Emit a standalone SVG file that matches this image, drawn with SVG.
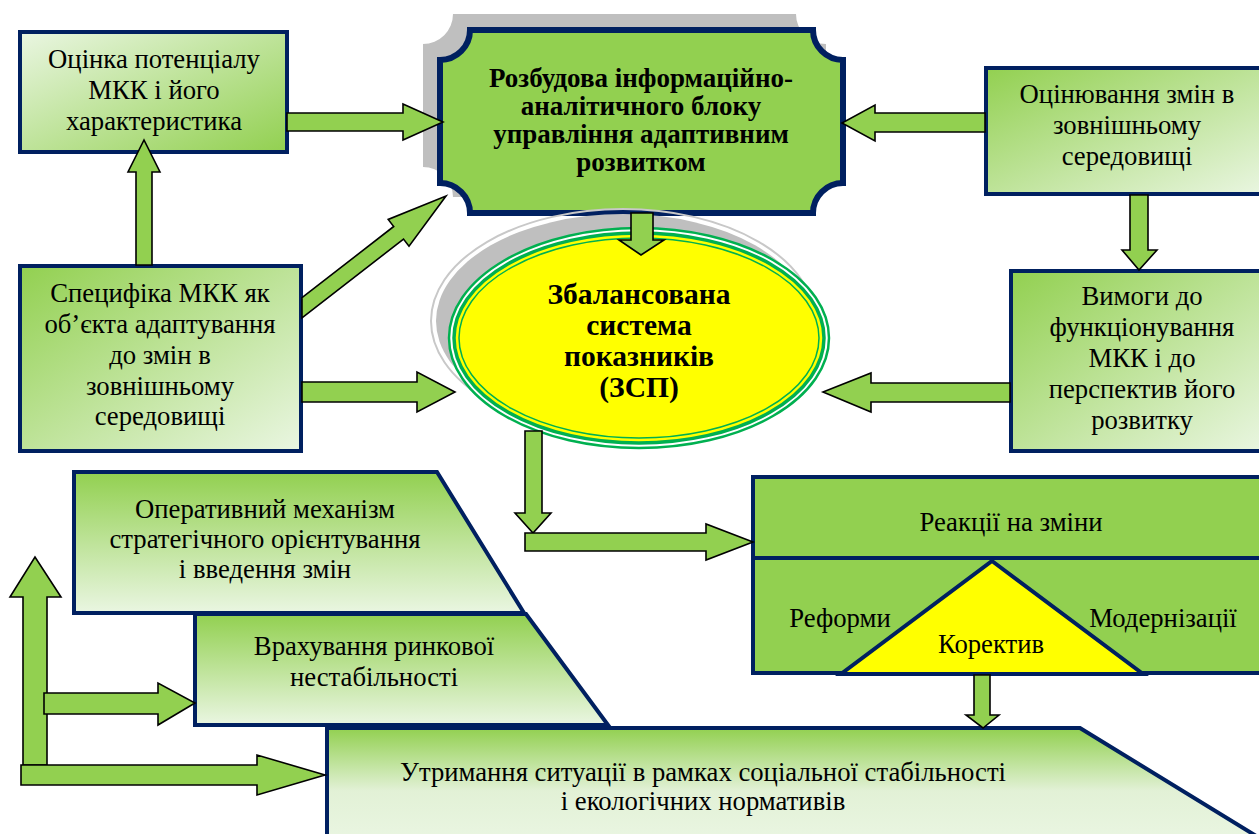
<svg xmlns="http://www.w3.org/2000/svg" width="1259" height="834" viewBox="0 0 1259 834" font-family="'Liberation Serif', 'DejaVu Serif', serif">
  <defs>
    <!-- light corner to green corner -->
    <linearGradient id="gLightToGreen" x1="0" y1="0" x2="1" y2="1">
      <stop offset="0" stop-color="#EAF6E2"/>
      <stop offset="1" stop-color="#92D050"/>
    </linearGradient>
    <linearGradient id="gGreenToLight" x1="0" y1="0" x2="1" y2="1">
      <stop offset="0" stop-color="#92D050"/>
      <stop offset="1" stop-color="#EAF6E2"/>
    </linearGradient>
    <linearGradient id="gVert" x1="0" y1="0" x2="0" y2="1">
      <stop offset="0" stop-color="#92D050"/>
      <stop offset="1" stop-color="#EAF6E2"/>
    </linearGradient>
    <linearGradient id="gVertShort" x1="0" y1="0" x2="0" y2="1">
      <stop offset="0" stop-color="#92D050"/>
      <stop offset="0.55" stop-color="#E2F1D6"/>
      <stop offset="1" stop-color="#EAF6E2"/>
    </linearGradient>
    <path id="plaqueShape" d="M470,30 H813 A30,30 0 0 0 843,60 V183 A30,30 0 0 0 813,213 H470 A30,30 0 0 0 440,183 V60 A30,30 0 0 0 470,30 Z"/>
  </defs>
  <style>
    .box { stroke: #002060; stroke-width: 4; }
    text { font-family: 'Liberation Serif', 'DejaVu Serif', serif; }
    .t { font-size: 26.7px; fill: #000; text-anchor: middle; }
    .tb { font-size: 27px; font-weight: bold; fill: #000; text-anchor: middle; }
    .te { font-size: 29.5px; font-weight: bold; fill: #000; text-anchor: middle; }
    .arrow { fill: #92D050; stroke: #000; stroke-width: 1.6; stroke-linejoin: miter; }
  </style>

  <rect width="1259" height="834" fill="#FFFFFF"/>

  <!-- upper left box -->
  <g id="potential">
    <rect class="box" x="20" y="32" width="267" height="120" fill="url(#gLightToGreen)"/>
    <text class="t" x="154" y="68">Оцінка потенціалу</text>
    <text class="t" x="154" y="99">МКК і його</text>
    <text class="t" x="154" y="130">характеристика</text>
  </g>

  <!-- central plaque with shadow -->
  <g id="infoblock">
    <use href="#plaqueShape" transform="translate(-17,-16)" fill="#BFBFBF"/>
    <use href="#plaqueShape" fill="#92D050" stroke="#002060" stroke-width="6"/>
    <text class="tb" x="641" y="87">Розбудова інформаційно-</text>
    <text class="tb" x="641" y="115">аналітичного блоку</text>
    <text class="tb" x="641" y="143">управління адаптивним</text>
    <text class="tb" x="641" y="171">розвитком</text>
  </g>

  <!-- upper right box -->
  <g id="external">
    <rect class="box" x="986" y="68" width="280" height="126" fill="url(#gGreenToLight)"/>
    <text class="t" x="1127" y="103">Оцінювання змін в</text>
    <text class="t" x="1127" y="134">зовнішньому</text>
    <text class="t" x="1127" y="165">середовищі</text>
  </g>

  <!-- left middle box -->
  <g id="specifics">
    <rect class="box" x="20" y="266" width="281" height="185" fill="url(#gGreenToLight)"/>
    <text class="t" x="160" y="302">Специфіка МКК як</text>
    <text class="t" x="160" y="333">об’єкта адаптування</text>
    <text class="t" x="160" y="364">до змін в</text>
    <text class="t" x="160" y="395">зовнішньому</text>
    <text class="t" x="160" y="425">середовищі</text>
  </g>

  <!-- right middle box -->
  <g id="requirements">
    <rect class="box" x="1011" y="271" width="255" height="180" fill="url(#gGreenToLight)"/>
    <text class="t" x="1142" y="305">Вимоги до</text>
    <text class="t" x="1142" y="336">функціонування</text>
    <text class="t" x="1142" y="367">МКК і до</text>
    <text class="t" x="1142" y="398">перспектив його</text>
    <text class="t" x="1142" y="429">розвитку</text>
  </g>

  <!-- central ellipse -->
  <g id="bsc">
    <ellipse cx="623" cy="321" rx="192" ry="112" fill="none" stroke="#C8C8C8" stroke-width="2"/>
    <ellipse cx="623" cy="321" rx="187" ry="107" fill="#BFBFBF"/>
    <ellipse cx="639" cy="338" rx="190" ry="110" fill="#FFFFFF" stroke="#00B050" stroke-width="2.5"/>
    <ellipse cx="639" cy="338" rx="185" ry="105" fill="#FFFF00" stroke="#00B050" stroke-width="3.5"/>
    <ellipse cx="639" cy="338" rx="180" ry="100" fill="#FFFF00" stroke="#00B050" stroke-width="1.5"/>
    <text class="te" x="639" y="304">Збалансована</text>
    <text class="te" x="639" y="335">система</text>
    <text class="te" x="639" y="366">показників</text>
    <text class="te" x="639" y="397">(ЗСП)</text>
  </g>

  <!-- reactions block -->
  <g id="reactions">
    <rect x="753" y="477" width="512" height="196" fill="#92D050" stroke="#002060" stroke-width="4"/>
    <line x1="753" y1="558" x2="1265" y2="558" stroke="#002060" stroke-width="4"/>
    <polygon points="992,561 1143,674 841,674" fill="#FFFF00" stroke="#002060" stroke-width="4" stroke-linejoin="miter"/>
    <text class="t" x="1011" y="531">Реакції на зміни</text>
    <text class="t" x="840" y="627">Реформи</text>
    <text class="t" x="1163" y="627">Модернізації</text>
    <text class="t" x="991" y="653">Коректив</text>
  </g>

  <!-- stacked trapezoids, lower left -->
  <g id="operative">
    <polygon class="box" points="74,472 437,472 524,613 74,613" fill="url(#gVert)"/>
    <text class="t" x="265" y="518">Оперативний механізм</text>
    <text class="t" x="265" y="548">стратегічного орієнтування</text>
    <text class="t" x="265" y="578">і введення змін</text>
  </g>
  <g id="market">
    <polygon class="box" points="195,614 526,614 608,725 195,725" fill="url(#gVert)"/>
    <text class="t" x="374" y="655">Врахування ринкової</text>
    <text class="t" x="374" y="686">нестабільності</text>
  </g>
  <g id="stability">
    <polygon class="box" points="327,728 1080,728 1266,842 327,842" fill="url(#gVertShort)"/>
    <text class="t" x="703" y="781">Утримання ситуації в рамках соціальної стабільності</text>
    <text class="t" x="703" y="810">і екологічних нормативів</text>
  </g>

  <!-- block arrows -->
  <g id="connectors">
    <!-- potential -> info block -->
    <polygon class="arrow" points="287,113 403,113 403,104 443,122 403,140 403,131 287,131"/>
    <!-- specifics -> potential -->
    <polygon class="arrow" points="136,265 136,172 128,172 144,140 160,172 152,172 152,265"/>
    <!-- specifics -> info block (diagonal) -->
    <polygon class="arrow" points="302,297.7 393.7,226.5 388.2,219.4 446,196 409,246.2 403.5,239.1 302,317.9"/>
    <!-- specifics -> ellipse -->
    <polygon class="arrow" points="302,382 417,382 417,372 455,392 417,412 417,402 302,402"/>
    <!-- external -> info block -->
    <polygon class="arrow" points="985,113 875,113 875,105 842,123 875,141 875,132 985,132"/>
    <!-- external -> requirements -->
    <polygon class="arrow" points="1130,195 1148,195 1148,250 1157,250 1139,270 1122,250 1130,250"/>
    <!-- requirements -> ellipse -->
    <polygon class="arrow" points="1010,383 871,383 871,373 823,392 871,412 871,402 1010,402"/>
    <!-- info block -> ellipse -->
    <polygon class="arrow" points="631,213 653,213 653,240 664,240 641,255 619,240 631,240"/>
    <!-- ellipse -> reactions (elbow) -->
    <polygon class="arrow" points="525,431 542,431 542,513 551,513 533,533 515,513 525,513"/>
    <polygon class="arrow" points="525,533 706,533 706,524 753,542 706,560 706,551 525,551"/>
    <!-- corrective -> stability -->
    <polygon class="arrow" points="974,675 990,675 990,715 999,715 983,728 966,715 974,715"/>
    <!-- lower left feedback arrows -->
    <polygon class="arrow" points="23,765 23,597 10,597 35,557 61,597 47,597 47,765"/>
    <polygon class="arrow" points="44,693 158,693 158,683 195,703 158,725 158,714 44,714"/>
    <polygon class="arrow" points="21,765 257,765 257,755 325,775 257,795 257,785 21,785"/>
  </g>
</svg>
